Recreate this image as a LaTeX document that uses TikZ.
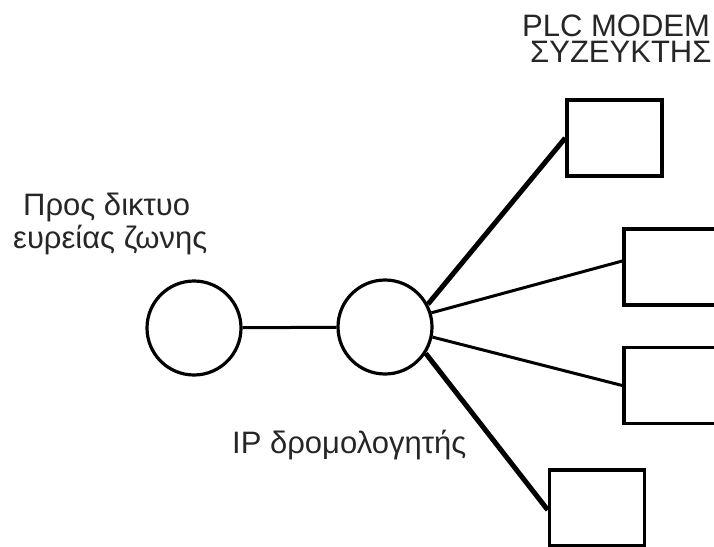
\documentclass[tikz,border=0pt]{standalone}
\usepackage{fontspec}
\setmainfont{Liberation Sans}
\begin{document}
\begin{tikzpicture}[x=1pt,y=-1pt,
  hub/.style={draw=black,line width=3.2pt,circle,minimum size=94pt,inner sep=0pt},
  modem/.style={draw=black,line width=3.5pt,rectangle,minimum width=95pt,minimum height=76pt,inner sep=0pt},
  thick link/.style={draw=black,line width=5pt},
  thin link/.style={draw=black,line width=3pt},
  label/.style={inner sep=0pt,anchor=base west,text=black!85,font=\fontsize{31}{34}\selectfont}]
\useasboundingbox (0,0) rectangle (714,546);
% broadband side and the IP router
\node[hub] (net) at (194,328) {};
\node[hub] (router) at (385,327) {};
% PLC modems / couplers
\node[modem] (m1) at (614.5,138) {};
\node[modem] (m2) at (671.5,267) {};
\node[modem] (m3) at (671.5,385.5) {};
\node[modem] (m4) at (597,508) {};
% links
\draw[thin link] (net) -- (router);
\draw[thick link] (router.28) -- (m1.west);
\draw[thin link] (router.17) -- ([yshift=6pt]m2.west);
\draw[thin link] (router.-12) -- (m3.west);
\draw[thick link] (router.-33) -- ([yshift=-2pt]m4.west);
% labels
\node[label,anchor=north west,align=left,font=\fontsize{31}{26}\selectfont] (t1) at (522,15)
  {PLC MODEM\\\hspace*{8pt}ΣΥΖΕΥΚΤΗΣ};
\node[label] (t3) at (23,215) {Προς δικτυο};
\node[label] (t4) at (13,248) {ευρείας ζωνης};
\node[label] (t5) at (232,453) {IP δρομολογητής};
\end{tikzpicture}
\end{document}
